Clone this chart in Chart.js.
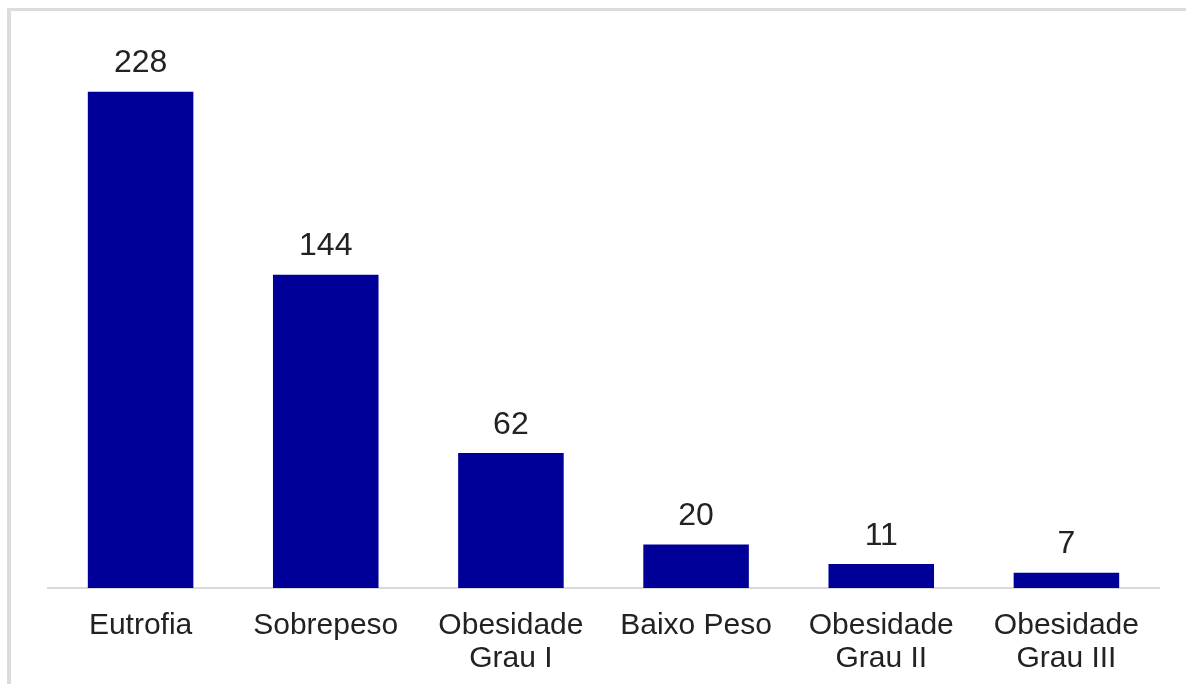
<!DOCTYPE html>
<html>
<head>
<meta charset="utf-8">
<script src="https://cdn.jsdelivr.net/npm/chart.js@4/dist/chart.umd.min.js"></script>
<style>
  html, body { margin: 0; padding: 0; background: #fff; }
  #wrap { position: relative; width: 1186px; height: 684px; overflow: hidden; }
  /* light grey frame, only top and left edges are in view */
  #frame {
    position: absolute; left: 7px; top: 8px; width: 1300px; height: 800px;
    border-left: 4px solid #dcdcdc; border-top: 3px solid #dcdcdc;
  }
  #chart { position: absolute; left: 0; top: 0; }
</style>
</head>
<body>
<div id="wrap">
  <div id="frame"></div>
  <canvas id="chart" width="1186" height="696"></canvas>
</div>
<script>
// categories and counts
const categories = [
    'Eutrofia',
    'Sobrepeso',
    ['Obesidade', 'Grau I'],
    'Baixo Peso',
    ['Obesidade', 'Grau II'],
    ['Obesidade', 'Grau III']
];
const counts = [228, 144, 62, 20, 11, 7];

const FONT = "'Liberation Sans', Arial, sans-serif";

// writes the count above each bar
const valueLabels = {
    id: 'valueLabels',
    afterDatasetsDraw(chart) {
        const ctx = chart.ctx;
        const meta = chart.getDatasetMeta(0);
        ctx.save();
        ctx.font = '32px ' + FONT;
        ctx.fillStyle = '#222';
        ctx.textAlign = 'center';
        ctx.textBaseline = 'alphabetic';
        meta.data.forEach((bar, i) => {
            ctx.fillText(String(counts[i]), bar.x, bar.y - 19.5);
        });
        ctx.restore();
    }
};

new Chart(document.getElementById('chart'), {
    type: 'bar',
    data: {
        labels: categories,
        datasets: [{
            data: counts,
            backgroundColor: '#000099',
            borderWidth: 0,
            categoryPercentage: 1,
            barPercentage: 0.57
        }]
    },
    options: {
        responsive: false,
        animation: false,
        layout: {
            padding: { left: 48, right: 27, top: 44, bottom: 0 }
        },
        plugins: {
            legend: { display: false },
            tooltip: { enabled: false }
        },
        scales: {
            x: {
                grid: { display: false, drawTicks: false },
                border: { display: true, color: '#d9d9d9', width: 2 },
                ticks: {
                    color: '#222',
                    padding: 21,
                    maxRotation: 0,
                    autoSkip: false,
                    font: { family: FONT, size: 30, lineHeight: 1.1 }
                }
            },
            y: {
                display: false,
                min: 0,
                max: 250
            }
        }
    },
    plugins: [valueLabels]
});
</script>
</body>
</html>
